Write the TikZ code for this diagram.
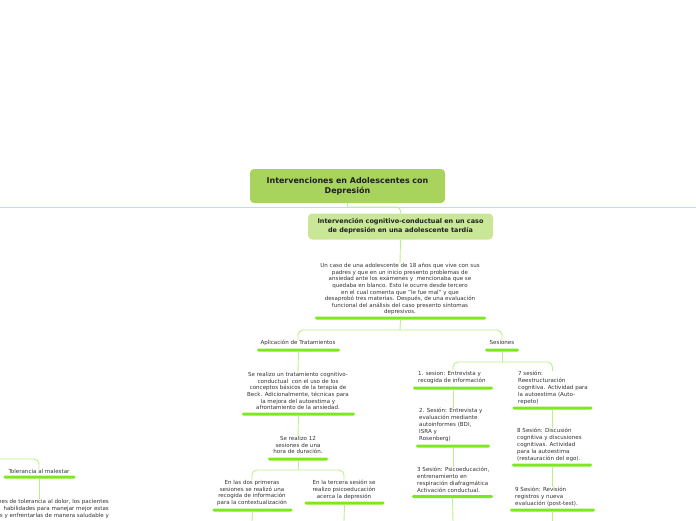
\documentclass[tikz,border=0pt]{standalone}
\usepackage{fontspec}
\setmainfont{DejaVu Sans}
\definecolor{rootc}{RGB}{168,211,92}
\definecolor{childc}{RGB}{202,231,152}
\definecolor{linec}{RGB}{188,240,136}
\definecolor{barc}{RGB}{126,232,30}
\definecolor{txtc}{RGB}{51,51,51}
\begin{document}
\begin{tikzpicture}[x=1pt,y=-1pt,
  conn/.style={draw=linec, line width=0.9pt},
  rootbox/.style={fill=rootc, rounded corners=4pt, minimum width=195pt, minimum height=34pt, inner sep=0pt,
    align=center, text=black!88, font=\bfseries\fontsize{7.95}{9.8}\selectfont},
  childbox/.style={fill=childc, rounded corners=4pt, minimum width=185pt, minimum height=26pt, inner sep=0pt,
    align=center, text=black!88, font=\bfseries\fontsize{6.45}{9}\selectfont},
  txt/.style={font=\fontsize{5.55}{6.6}\selectfont, text=txtc, align=center, inner sep=0pt, anchor=north},
  ltxt/.style={font=\fontsize{5.55}{6.8}\selectfont, text=txtc, align=left, inner sep=0pt, anchor=north west},
  barnode/.style={fill=barc, rounded corners=1.4pt, minimum height=3pt, inner sep=0pt, draw=none}
]
\useasboundingbox (0,0) rectangle (696,520);
\clip (0,0) rectangle (696,520);

% free ends
\coordinate (offL) at (0,207);
\coordinate (offR) at (696,207);
\coordinate (tolin) at (0,459);

% root and child
\node[rootbox] (root) at (347.5,186) {Intervenciones en Adolescentes con\\Depresión};
\node[childbox] (child) at (400.5,226.5) {Intervención cognitivo-conductual en un caso\\de depresión en una adolescente tardía};

\draw[conn] (offL) -- (offR);
\draw[conn] (root.south) -- (root.south |- offL);
\draw[conn, rounded corners=4pt] (root.south |- offL) -| (child.north);

% description
\node[txt] (desc) at (400,263.2) {Un caso de una adolescente de 18 años que vive con sus\\
padres y que en un inicio presento problemas de\\
ansiedad ante los exámenes y \ mencionaba que se\\
quedaba en blanco. Esto le ocurre desde tercero\\
en el cual comenta que "le fue mal" y que\\
desaprobó tres materias. Después, de una evaluación\\
funcional del análisis del caso presento síntomas\\
depresivos.};
\node[barnode, minimum width=171pt] (descbar) at (400.5,318) {};
\draw[conn] (child.south) -- (desc.north);

% first branching
\coordinate (j1) at (400,330);
\node[txt] (apl) at (298,340.2) {Aplicación de Tratamientos};
\node[barnode, minimum width=83pt] (aplbar) at (298.5,350) {};
\node[txt] (ses) at (502,340.2) {Sesiones};
\node[barnode, minimum width=34pt] (sesbar) at (502,350) {};
\draw[conn] (descbar.south) -- (j1);
\draw[conn, rounded corners=5pt] (j1) -| (apl.north);
\draw[conn, rounded corners=5pt] (j1) -| (ses.north);

% tratamiento branch
\node[txt] (trat) at (298,372.2) {Se realizo un tratamiento cognitivo-\\
conductual \ con el uso de los\\
conceptos básicos de la terapia de\\
Beck. Adicionalmente, técnicas para\\
la mejora del autoestima y\\
afrontamiento de la ansiedad.};
\node[barnode, minimum width=113pt] (tratbar) at (298.5,414) {};
\draw[conn] (aplbar.south) -- (trat.north);

\node[txt] (doce) at (298,436.2) {Se realizo 12\\sesiones de una\\hora de duración.};
\node[barnode, minimum width=60pt] (docebar) at (298,459) {};
\draw[conn] (tratbar.south) -- (doce.north);

\coordinate (j2) at (298,470);
\node[txt] (dos) at (252,480.2) {En las dos primeras\\sesiones se realizó una\\recogida de información\\para la contextualización};
\node[barnode, minimum width=80pt] (dosbar) at (252.5,510) {};
\node[txt] (ter) at (344,480.2) {En la tercera sesión se\\realizo psicoeducación\\acerca la depresión};
\node[barnode, minimum width=80pt] (terbar) at (344.5,503) {};
\draw[conn] (docebar.south) -- (j2);
\draw[conn, rounded corners=5pt] (j2) -| (dos.north);
\draw[conn, rounded corners=5pt] (j2) -| (ter.north);
\coordinate (dosend) at (252,521);
\coordinate (terend) at (344,521);
\draw[conn] (dosbar.south) -- (dosend);
\draw[conn] (terbar.south) -- (terend);

% sesiones branch
\coordinate (j3) at (502,362);
\node[ltxt] (s1) at (418,371.2) {1. sesion: Entrevista y\\recogida de información};
\node[barnode, minimum width=80pt] (s1bar) at (453,388) {};
\node[ltxt] (s2) at (419,408.2) {2. Sesión: Entrevista y\\evaluación mediante\\autoinformes (BDI,\\ISRA y\\Rosenberg)};
\node[barnode, minimum width=74pt] (s2bar) at (453,446) {};
\node[ltxt] (s3) at (417,467.2) {3 Sesión: Psicoeducación,\\entrenamiento en\\respiración diafragmática\\Activación conductual.};
\node[barnode, minimum width=81pt] (s3bar) at (452.5,496.5) {};
\coordinate (s3end) at (453,521);

\node[ltxt] (s7) at (518,371.2) {7 sesión:\\Reestructuración\\cognitiva. Actividad para\\la autoestima (Auto-\\repeto)};
\node[barnode, minimum width=80pt] (s7bar) at (552.5,408) {};
\node[ltxt] (s8) at (517,428.2) {8 Sesión: Discusión\\cognitiva y discusiones\\cognitivas. Actividad\\para la autoestima\\(restauración del ego).};
\node[barnode, minimum width=80pt] (s8bar) at (552,465) {};
\node[ltxt] (s9) at (515,487.2) {9 Sesión: Revisión\\registros y nueva\\evaluación (post-test).};
\node[barnode, minimum width=85pt] (s9bar) at (552.5,510) {};
\coordinate (s9end) at (552.5,521);

\draw[conn] (sesbar.south) -- (j3);
\draw[conn, rounded corners=5pt] (j3) -| (s1bar.center |- s1.north);
\draw[conn, rounded corners=5pt] (j3) -| (s7bar.center |- s7.north);
\draw[conn] (s1bar.south) -- (s1bar.south |- s2.north);
\draw[conn] (s2bar.south) -- (s2bar.south |- s3.north);
\draw[conn] (s3bar.south) -- (s3end);
\draw[conn] (s7bar.south) -- (s7bar.south |- s8.north);
\draw[conn] (s8bar.south) -- (s8bar.south |- s9.north);
\draw[conn] (s9bar.south) -- (s9end);

% left partial branch
\node[txt] (tol) at (39,469.2) {Tolerancia al malestar};
\node[barnode, minimum width=72pt] (tolbar) at (39.5,477) {};
\draw[conn, rounded corners=5pt] (tolin) -| (tol.north);
\node[font=\fontsize{5.55}{6.8}\selectfont, text=txtc, align=right, inner sep=0pt, anchor=north east] (toltext) at (109,499.2)
 {nes de tolerancia al dolor, los pacientes\\habilidades para manejar mejor estas\\s y enfrentarlas de manera saludable y};
\draw[conn] (tolbar.south) -- (tolbar.south |- toltext.north);
\end{tikzpicture}
\end{document}
